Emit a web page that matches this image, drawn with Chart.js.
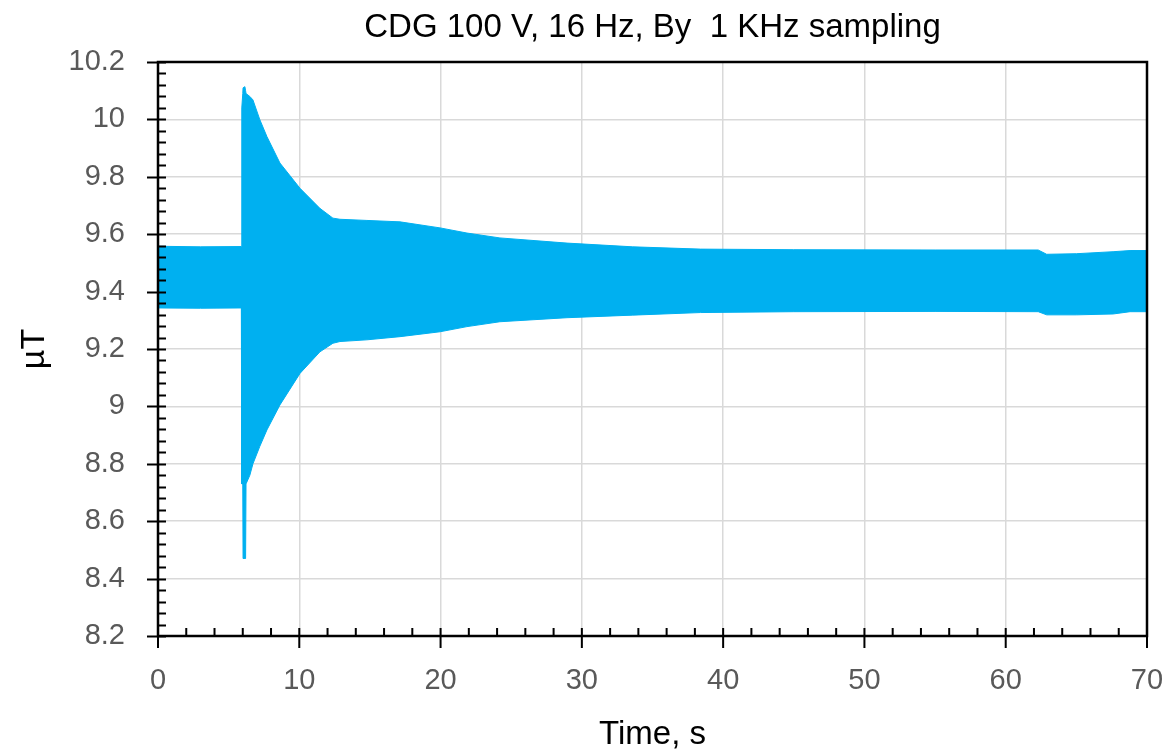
<!DOCTYPE html>
<html lang="en">
<head>
  <meta charset="UTF-8">
  <title>CDG 100 V, 16 Hz, By 1 KHz sampling</title>
  <script src="https://cdn.jsdelivr.net/npm/chart.js"></script>
  <style>
    html, body { margin: 0; padding: 0; background: #fff; }
    #wrap { width: 1170px; height: 755px; position: relative; }
  </style>
</head>
<body>
  <div id="wrap"><canvas id="byChart"></canvas></div>
  <script>
    // envelope of the 16 Hz signal (time in s, field in uT)
    const timeS   = [0, 3, 5.9, 5.93, 6.0, 6.02, 6.15, 6.2, 6.23, 6.5, 6.72, 7.2, 7.71, 8.63, 10.05, 11.46, 12.38, 12.88, 14.79, 17.13, 19.96, 21.87, 24.2, 28.95, 33.6, 38.4, 45, 55, 62.3, 62.9, 65, 67.6, 68.8, 70];
    const upperUT = [9.558, 9.556, 9.557, 10.04, 10.09, 10.11, 10.114, 10.10, 10.09, 10.08, 10.068, 10.0, 9.94, 9.848, 9.76, 9.69, 9.656, 9.652, 9.648, 9.643, 9.622, 9.604, 9.587, 9.569, 9.556, 9.548, 9.546, 9.545, 9.545, 9.530, 9.532, 9.539, 9.543, 9.543];
    const lowerUT = [9.343, 9.342, 9.343, 8.73, 8.73, 8.47, 8.47, 8.47, 8.73, 8.76, 8.80, 8.86, 8.918, 9.005, 9.115, 9.19, 9.22, 9.226, 9.232, 9.243, 9.26, 9.278, 9.295, 9.309, 9.318, 9.327, 9.330, 9.331, 9.330, 9.319, 9.319, 9.322, 9.330, 9.330];
    const xTicks = [0, 10, 20, 30, 40, 50, 60, 70];
    const yTicks = [8.2, 8.4, 8.6, 8.8, 9, 9.2, 9.4, 9.6, 9.8, 10, 10.2];

    const blue = '#00B0F0';
    const tickFont = { family: 'Liberation Sans', size: 29 };

    // centre the title over the plot area, like the original
    const titlePlugin = {
      id: 'titleOverPlot',
      afterLayout(chart) {
        if (chart.titleBlock) {
          chart.titleBlock.left = chart.chartArea.left;
          chart.titleBlock.right = chart.chartArea.right;
          chart.titleBlock.width = chart.chartArea.right - chart.chartArea.left;
        }
      }
    };

    // black frame, crossing major ticks and inward minor ticks
    const framePlugin = {
      id: 'frame',
      afterDraw(chart) {
        const { ctx, chartArea: a, scales: { x, y } } = chart;
        ctx.save();
        ctx.strokeStyle = '#000';
        ctx.lineWidth = 2;
        ctx.beginPath();
        for (let v = 0; v <= 70; v += 2) {
          const px = x.getPixelForValue(v);
          const major = xTicks.includes(v);
          ctx.moveTo(px, a.bottom - 8);
          ctx.lineTo(px, a.bottom + (major ? 12 : 0));
        }
        for (let i = 0; i <= 50; i++) {
          const v = 8.2 + i * 0.04;
          const py = Math.round(y.getPixelForValue(v)) + 0.5;
          const major = i % 5 === 0;
          ctx.moveTo(a.left + 8, py);
          ctx.lineTo(a.left - (major ? 11 : 0), py);
        }
        ctx.stroke();
        ctx.lineWidth = 2.5;
        ctx.strokeRect(a.left, a.top, a.right - a.left, a.bottom - a.top);
        ctx.restore();
      }
    };

    new Chart(document.getElementById('byChart'), {
      type: 'line',
      data: {
        datasets: [
          { label: 'upper', data: timeS.map((t, i) => ({ x: t, y: upperUT[i] })), borderColor: blue, borderWidth: 1, backgroundColor: blue, pointRadius: 0, fill: '+1' },
          { label: 'lower', data: timeS.map((t, i) => ({ x: t, y: lowerUT[i] })), borderColor: blue, borderWidth: 1, pointRadius: 0, fill: false }
        ]
      },
      options: {
        responsive: true,
        maintainAspectRatio: false,
        animation: false,
        layout: { padding: { left: 0, right: 23, top: 0, bottom: 0 } },
        plugins: {
          legend: { display: false },
          tooltip: { enabled: false },
          title: {
            display: true,
            text: 'CDG 100 V, 16 Hz, By  1 KHz sampling',
            color: '#000',
            font: { family: 'Liberation Sans', size: 33, weight: 'normal' },
            padding: { top: 8, bottom: 14.4 }
          }
        },
        scales: {
          x: {
            type: 'linear',
            min: 0, max: 70,
            afterBuildTicks: s => { s.ticks = xTicks.map(v => ({ value: v })); },
            afterFit: s => { s.height = 119; s.paddingLeft = 0; s.paddingRight = 0; },
            grid: { color: '#d9d9d9', lineWidth: 1.5, drawTicks: false },
            border: { display: false },
            ticks: { color: '#595959', font: tickFont, padding: 28, maxRotation: 0 },
            title: { display: true, text: 'Time, s', color: '#000', font: { family: 'Liberation Sans', size: 33 }, padding: { top: 0, bottom: 0 } }
          },
          y: {
            min: 8.2, max: 10.2,
            afterBuildTicks: s => { s.ticks = yTicks.map(v => ({ value: v })); },
            afterFit: s => { s.width = 158; s.paddingTop = 0; s.paddingBottom = 0; },
            grid: { color: '#d9d9d9', lineWidth: 1.5, drawTicks: false },
            border: { display: false },
            ticks: { color: '#595959', font: tickFont, padding: 33, callback: v => String(Number(v.toFixed(2))) },
            title: { display: true, text: 'µT', color: '#000', font: { family: 'Liberation Sans', size: 34 }, padding: { top: 14, bottom: 14 } }
          }
        }
      },
      plugins: [titlePlugin, framePlugin]
    });
  </script>
</body>
</html>
